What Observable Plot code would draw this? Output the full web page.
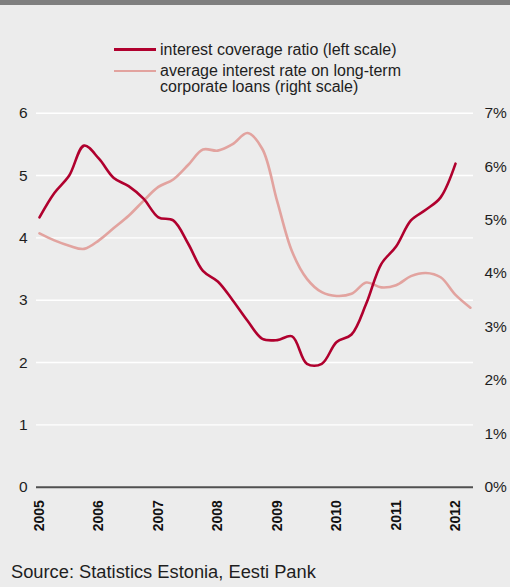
<!DOCTYPE html>
<html>
<head>
<meta charset="utf-8">
<script src="https://cdn.jsdelivr.net/npm/d3@7"></script>
<script src="https://cdn.jsdelivr.net/npm/@observablehq/plot@0.6"></script>
<style>
  html, body { margin: 0; padding: 0; background: #ececec; }
  #wrap { position: relative; width: 510px; height: 587px; background: #ececec; overflow: hidden;
          font-family: "Liberation Sans", Arial, Helvetica, sans-serif; color: #1e1e1e; }
  #topbar { position: absolute; left: 0; top: 0; width: 510px; height: 5px; background: #7f7f7f; }
  .leg { position: absolute; left: 114px; display: flex; align-items: flex-start; }
  .leg .sw { width: 42px; height: 2.7px; margin-right: 4px; }
  .leg .tx { font-size: 16px; line-height: 15.7px; }
  #chart { position: absolute; left: 0; top: 100px; }
  #source { position: absolute; left: 11px; top: 562.5px; font-size: 18.3px; line-height: 18.3px; }
</style>
</head>
<body>
<div id="wrap">
  <div id="topbar"></div>
  <div id="legend"></div>
  <div id="chart"></div>
  <div id="source">Source: Statistics Estonia, Eesti Pank</div>
</div>
<script>
// Quarterly observations (2005 Q1 ... )
const ratioQuarters = ["2005Q1","2005Q2","2005Q3","2005Q4","2006Q1","2006Q2","2006Q3","2006Q4",
  "2007Q1","2007Q2","2007Q3","2007Q4","2008Q1","2008Q2","2008Q3","2008Q4",
  "2009Q1","2009Q2","2009Q3","2009Q4","2010Q1","2010Q2","2010Q3","2010Q4",
  "2011Q1","2011Q2","2011Q3","2011Q4","2012Q1"];
// interest coverage ratio (left scale)
const ratioValues = [4.33, 4.72, 5.00, 5.48, 5.27, 4.96, 4.83, 4.63,
  4.33, 4.28, 3.91, 3.47, 3.30, 3.00, 2.67, 2.38,
  2.36, 2.42, 1.98, 1.98, 2.33, 2.45, 2.95, 3.58,
  3.86, 4.28, 4.45, 4.65, 5.19];

const rateQuarters = ratioQuarters.concat(["2012Q2"]);
// average interest rate on long-term corporate loans, % (right scale)
const rateValues = [4.75, 4.62, 4.52, 4.46, 4.62, 4.85, 5.08, 5.36,
  5.62, 5.76, 6.03, 6.32, 6.30, 6.42, 6.63, 6.33,
  5.35, 4.41, 3.90, 3.65, 3.58, 3.62, 3.83, 3.74,
  3.78, 3.95, 4.01, 3.93, 3.60, 3.36];

const years = [2005, 2006, 2007, 2008, 2009, 2010, 2011, 2012];
const leftTicks = [0, 1, 2, 3, 4, 5, 6];
const rightTicks = [0, 1, 2, 3, 4, 5, 6, 7]; // percent
const leftMax = 6, rightMax = 7;

const seriesNames = ["interest coverage ratio (left scale)",
  "average interest rate on long-term corporate loans (right scale)"];
const legendLines = [["interest coverage ratio (left scale)"],
  ["average interest rate on long-term", "corporate loans (right scale)"]];
const colors = ["#b0002e", "#e2a39f"];

const qToYear = q => +q.slice(0, 4) + (+q.slice(5) - 1) / 4;
const ratio = ratioQuarters.map((q, i) => ({t: qToYear(q), v: ratioValues[i]}));
const rate = rateQuarters.map((q, i) => ({t: qToYear(q), v: rateValues[i] * leftMax / rightMax}));

// legend
const legend = document.getElementById("legend");
const legTops = [41.5, 63.2];
legendLines.forEach((lines, i) => {
  const row = document.createElement("div");
  row.className = "leg";
  row.style.top = legTops[i] + "px";
  const sw = document.createElement("div");
  sw.className = "sw";
  sw.style.background = colors[i];
  sw.style.marginTop = "6.5px";
  const tx = document.createElement("div");
  tx.className = "tx";
  tx.innerHTML = lines.join("<br>");
  row.appendChild(sw); row.appendChild(tx);
  legend.appendChild(row);
});

const chart = Plot.plot({
  width: 510,
  height: 440,
  marginLeft: 36,
  marginRight: 37,
  marginTop: 12.7,
  marginBottom: 53.3,
  style: {background: "transparent", fontFamily: "'Liberation Sans', Arial, Helvetica, sans-serif", color: "#1e1e1e", overflow: "visible"},
  x: {domain: [2004.9495, 2012.3027], axis: null},
  y: {domain: [0, leftMax], axis: null},
  marks: [
    Plot.gridY(leftTicks.filter(d => d > 0), {stroke: "#ffffff", strokeOpacity: 1, strokeWidth: 1.4}),
    Plot.ruleY([0], {stroke: "#505050", strokeWidth: 2}),
    Plot.line(rate, {x: "t", y: "v", stroke: colors[1], strokeWidth: 2.6, curve: "catmull-rom"}),
    Plot.line(ratio, {x: "t", y: "v", stroke: colors[0], strokeWidth: 2.6, curve: "catmull-rom"}),
    Plot.axisY(leftTicks, {anchor: "left", tickSize: 0, tickPadding: 9, fontSize: 15.5, label: null, tickFormat: d => String(d)}),
    Plot.axisY(rightTicks.map(p => p * leftMax / rightMax), {anchor: "right", tickSize: 0, tickPadding: 11, fontSize: 15.5, label: null,
      tickFormat: d => Math.round(d * rightMax / leftMax) + "%"}),
    Plot.text(years, {x: d => d, y: 0, text: d => String(d), rotate: -90, textAnchor: "end", lineAnchor: "middle",
      dy: 13, fontWeight: "bold", fontSize: 14, fill: "#111"})
  ]
});
document.getElementById("chart").appendChild(chart);
</script>
</body>
</html>
